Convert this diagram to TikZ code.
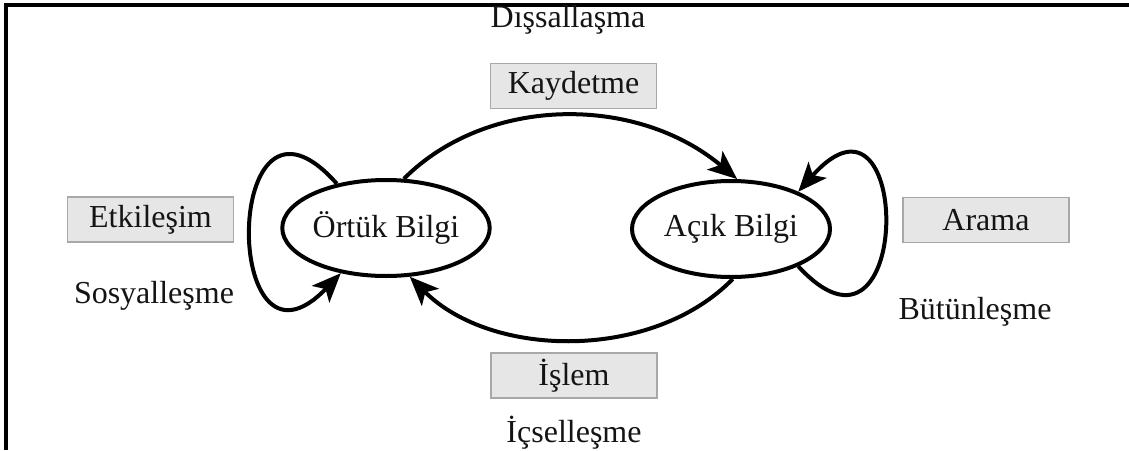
\documentclass[tikz,border=0pt]{standalone}
\usepackage{fontspec}
\setmainfont{Liberation Serif}
\usetikzlibrary{arrows.meta,shapes.geometric}
\definecolor{boxfill}{HTML}{E6E6E6}
\definecolor{boxline}{HTML}{A8A8A8}
\definecolor{inkcol}{HTML}{141414}
\begin{document}
\begin{tikzpicture}[x=1pt,y=-1pt,
  every node/.style={font=\fontsize{32}{38}\selectfont, text=inkcol},
  knowledge/.style={ellipse, draw, line width=4pt, minimum width=198pt, minimum height=96pt, inner sep=0pt},
  actbox/.style={rectangle, draw=boxline, fill=boxfill, line width=1.8pt, minimum width=166pt, minimum height=45pt, inner sep=0pt},
  modelabel/.style={anchor=base, inner sep=0pt},
  flow/.style={line width=4pt, -{Stealth[length=29pt,width=24pt,inset=7pt]}}
]
\useasboundingbox (0,0) rectangle (1129,450);
% open frame: top and left edges
\draw[line width=3.4pt] (1129,5) -- (6,5) -- (6,450);

% knowledge states
\node[knowledge] (ortuk) at (386,228) {Örtük Bilgi};
\node[knowledge] (acik) at (731,229) {Açık Bilgi};

% activity boxes
\node[actbox] (kaydetme) at (573.5,86) {Kaydetme};
\node[actbox] (etkilesim) at (150.5,219.5) {Etkileşim};
\node[actbox] (arama) at (986,220) {Arama};
\node[actbox] (islem) at (574,375.5) {İşlem};

% conversion mode labels
\node[modelabel] (dissal) at (568,27) {Dışsallaşma};
\node[modelabel] (sosyal) at (154,303) {Sosyalleşme};
\node[modelabel] (butun) at (975,319) {Bütünleşme};
\node[modelabel] (icsel) at (574,442) {İçselleşme};

% transitions
\draw[flow] (ortuk.70) .. controls +(84,-84) and +(-100,-84) .. (acik.83);
\draw[flow] (acik.-88) .. controls +(-80,82) and +(82,82) .. (ortuk.-64);
\draw[flow] (ortuk.138) .. controls +(-115,-130) and +(-120,125) .. (ortuk.-135);
\draw[flow] (acik.-29) .. controls +(115,125) and +(115,-130) .. (acik.29);
\end{tikzpicture}
\end{document}
